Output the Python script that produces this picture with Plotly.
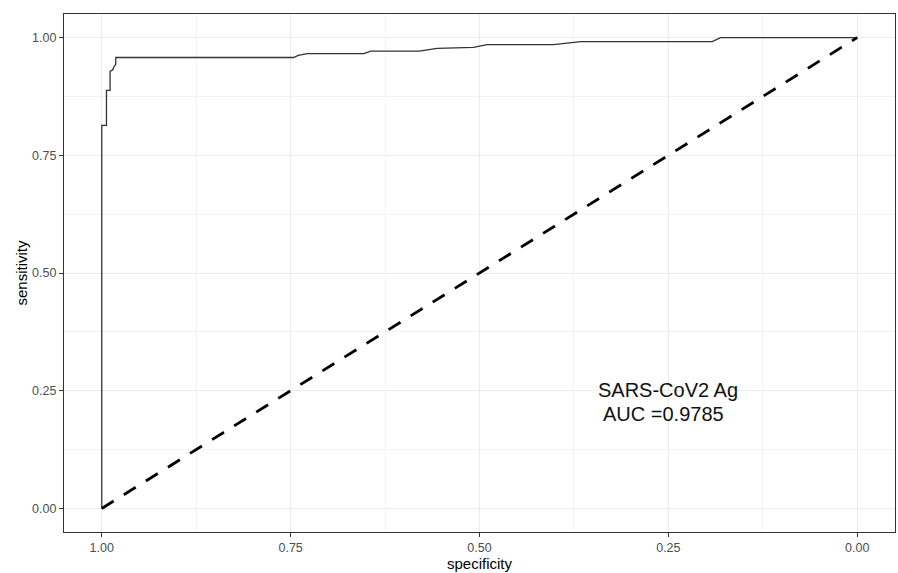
import plotly.graph_objects as go

# ROC curve points (specificity, sensitivity)
specificity = [1.0, 1.0, 0.9938, 0.9938, 0.989, 0.989, 0.985, 0.985, 0.9815, 0.9815,
               0.746, 0.740, 0.728, 0.653, 0.644, 0.580, 0.569, 0.556, 0.508, 0.490,
               0.402, 0.384, 0.366, 0.192, 0.181, 0.0]
sensitivity = [0.0, 0.8136, 0.8136, 0.888, 0.888, 0.928, 0.932, 0.935, 0.943, 0.9576,
               0.9576, 0.962, 0.966, 0.966, 0.971, 0.971, 0.974, 0.977, 0.979, 0.985,
               0.985, 0.988, 0.9915, 0.9915, 1.0, 1.0]

diag_x = [1.0, 0.0]
diag_y = [0.0, 1.0]

tick_vals = [1.0, 0.75, 0.5, 0.25, 0.0]
x_tick_text = ["1.00", "0.75", "0.50", "0.25", "0.00"]
y_tick_vals = [0.0, 0.25, 0.5, 0.75, 1.0]
y_tick_text = ["0.00", "0.25", "0.50", "0.75", "1.00"]

label_line1 = "SARS-CoV2 Ag"
label_line2 = "AUC =0.9785"

fig = go.Figure()
fig.add_trace(go.Scatter(x=specificity, y=sensitivity, mode="lines",
                         line=dict(color="#333333", width=1.3), showlegend=False,
                         hoverinfo="skip"))
fig.add_trace(go.Scatter(x=diag_x, y=diag_y, mode="lines",
                         line=dict(color="black", width=2.8, dash="14px,12px"),
                         showlegend=False, hoverinfo="skip"))

font_family = "Liberation Sans, Arial, sans-serif"

fig.add_annotation(x=0.3452, y=0.2506, xref="x", yref="y", text=label_line1,
                   showarrow=False, xanchor="left", yanchor="middle",
                   font=dict(family=font_family, size=20, color="#111111"))
fig.add_annotation(x=0.3386, y=0.1998, xref="x", yref="y", text=label_line2,
                   showarrow=False, xanchor="left", yanchor="middle",
                   font=dict(family=font_family, size=20, color="#111111"))

axis_common = dict(
    showline=True, linecolor="#333333", linewidth=1.2, mirror=True,
    showgrid=True, gridcolor="#EBEBEB", gridwidth=1,
    zeroline=False, ticks="outside", ticklen=4, tickcolor="#333333", tickwidth=1,
    tickfont=dict(family=font_family, size=12.5, color="#4D4D4D"),
    minor=dict(dtick=0.125, showgrid=True, gridcolor="#F3F3F3", gridwidth=0.6, ticks=""),
)

fig.update_layout(
    width=898, height=573,
    margin=dict(l=64, r=3, t=14, b=41),
    paper_bgcolor="white", plot_bgcolor="white",
    font=dict(family=font_family),
    xaxis=dict(range=[1.05, -0.05], tickmode="array", tickvals=tick_vals,
               ticktext=x_tick_text,
               title=dict(text="specificity", standoff=1,
                          font=dict(family=font_family, size=15, color="black")),
               **axis_common),
    yaxis=dict(range=[-0.05, 1.05], tickmode="array", tickvals=y_tick_vals,
               ticktext=y_tick_text,
               title=dict(text="sensitivity", standoff=0,
                          font=dict(family=font_family, size=15, color="black")),
               **axis_common),
)

fig.write_html("out.html", config={"displayModeBar": False},
               post_script="document.body.style.margin='0';document.body.style.overflow='hidden';")
